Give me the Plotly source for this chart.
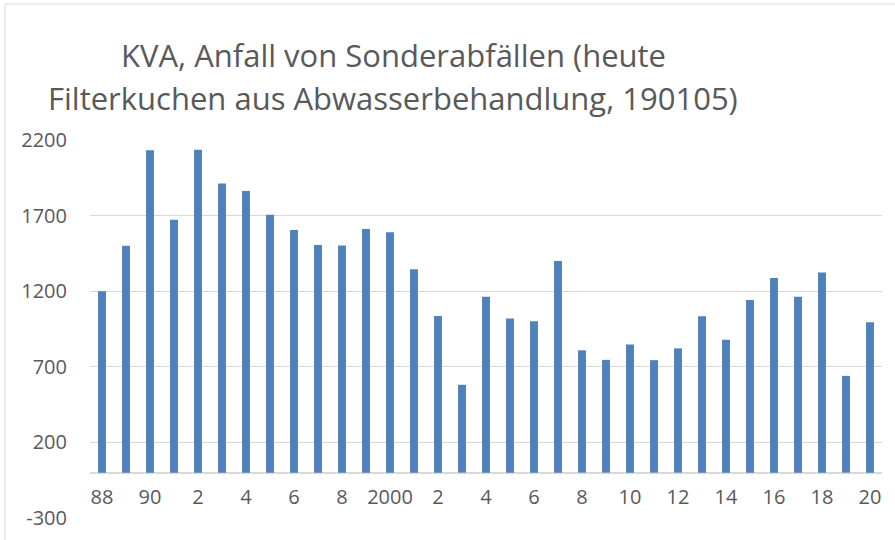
import plotly.graph_objects as go

years = list(range(1988, 2021))
values = [1200, 1500, 2133, 1672, 2135, 1912, 1862, 1705, 1605, 1506, 1502,
          1612, 1590, 1345, 1036, 581, 1164, 1020, 1001, 1400, 809, 746,
          848, 744, 822, 1034, 879, 1142, 1287, 1164, 1323, 640, 994]
tick_years = list(range(1988, 2021, 2))
tick_labels = ["88", "90", "2", "4", "6", "8", "2000", "2", "4", "6", "8",
               "10", "12", "14", "16", "18", "20"]
y_ticks = [-300, 200, 700, 1200, 1700, 2200]
y_tick_labels = ["-300", "200", "700", "1200", "1700", "2200"]
title_lines = ["KVA, Anfall von Sonderabfällen (heute",
               "Filterkuchen aus Abwasserbehandlung, 190105)"]

W, H = 895, 540
L, R, T, B = 90, 13, 140, 22
pw, ph = W - L - R, H - T - B

def px_x(x):
    return (x - L) / pw

def px_y(y):
    return (H - B - y) / ph

font_fam = "Open Sans, Liberation Sans, sans-serif"
txt = "#595959"
grid = "#d9d9d9"

fig = go.Figure(go.Bar(x=years, y=values, width=0.33,
                       marker=dict(color="#4f81bd", line=dict(width=0))))

fig.update_layout(
    width=W, height=H,
    margin=dict(l=L, r=R, t=T, b=B, pad=0, autoexpand=False),
    paper_bgcolor="white", plot_bgcolor="white",
    showlegend=False,
    font=dict(family=font_fam, color=txt, size=20),
    xaxis=dict(range=[1987.5, 2020.5], tickvals=tick_years, ticktext=tick_labels,
               anchor="free", position=300 / 2500, showgrid=False, showline=False,
               zeroline=False, ticks="", ticklabelstandoff=10, automargin=False,
               tickfont=dict(size=20, color=txt, family=font_fam)),
    yaxis=dict(range=[-300, 2200], tickvals=y_ticks, ticktext=y_tick_labels,
               showgrid=True, gridcolor=grid,
               gridwidth=1, zeroline=True, zerolinecolor=grid, zerolinewidth=1.5,
               showline=False, ticks="", ticklabelstandoff=22, automargin=False,
               tickfont=dict(size=20, color=txt, family=font_fam)),
)

for i, (line, ypx) in enumerate(zip(title_lines, [55, 98])):
    fig.add_annotation(text=line, xref="paper", yref="paper", x=px_x(393), y=px_y(ypx),
                       xanchor="center", yanchor="middle", showarrow=False,
                       font=dict(size=31, color=txt, family=font_fam))

fig.add_shape(type="rect", xref="paper", yref="paper",
              x0=px_x(5), x1=px_x(900), y0=px_y(545), y1=px_y(4),
              line=dict(color=grid, width=1), fillcolor="rgba(0,0,0,0)", layer="below")

fig.write_html("out.html", config={"displayModeBar": False},
               post_script="document.body.style.margin='0';document.body.style.overflow='hidden';")
